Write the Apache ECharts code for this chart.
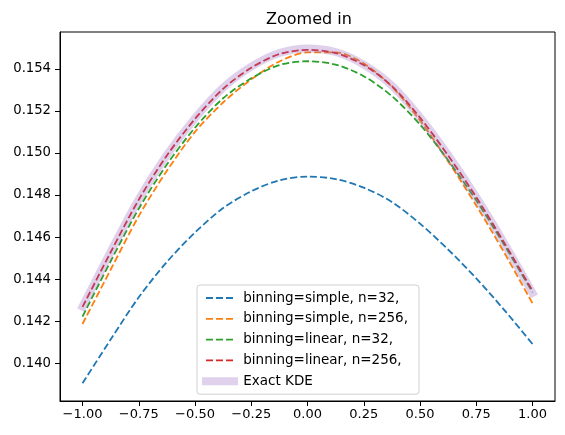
<!DOCTYPE html>
<html>
<head>
<meta charset="utf-8">
<script src="https://cdn.jsdelivr.net/npm/echarts@6/dist/echarts.min.js"></script>
<style>
html,body{margin:0;padding:0;background:#fff;}
#c{width:565px;height:435px;}
</style>
</head>
<body>
<div id="c"></div>
<script>
// x positions of the sampled curves
var xs = [-1, -0.875, -0.75, -0.625, -0.5, -0.375, -0.25, -0.125, 0, 0.125, 0.25, 0.375, 0.5, 0.625, 0.75, 0.875, 1];

// series values
var simple32  = [0.13905, 0.14113, 0.14314, 0.14482, 0.14622, 0.14738, 0.14818, 0.14870, 0.14888, 0.14876, 0.14835, 0.14767, 0.14664, 0.14541, 0.14404, 0.14253, 0.14092];
var simple256 = [0.14187, 0.14445, 0.14700, 0.14915, 0.15100, 0.15240, 0.15350, 0.15435, 0.15478, 0.15478, 0.15425, 0.15315, 0.15155, 0.14960, 0.14750, 0.14525, 0.14285];
var linear32  = [0.14222, 0.14485, 0.14735, 0.14945, 0.15120, 0.15260, 0.15355, 0.15418, 0.15436, 0.15420, 0.15365, 0.15270, 0.15135, 0.14965, 0.14775, 0.14562, 0.14338];
var linear256 = [0.14268, 0.14528, 0.14778, 0.14988, 0.15162, 0.15305, 0.15405, 0.15470, 0.15490, 0.15475, 0.15418, 0.15318, 0.15168, 0.14988, 0.14790, 0.14572, 0.14345];
var exactKDE  = [0.14270, 0.14530, 0.14780, 0.14990, 0.15165, 0.15310, 0.15410, 0.15475, 0.15497, 0.15480, 0.15420, 0.15320, 0.15170, 0.14990, 0.14790, 0.14570, 0.14335];

var seriesNames = ['binning=simple, n=32,', 'binning=simple, n=256,', 'binning=linear, n=32,', 'binning=linear, n=256,', 'Exact KDE'];
var titleText = 'Zoomed in';

// tick labels
var xTicks = [-1, -0.75, -0.5, -0.25, 0, 0.25, 0.5, 0.75, 1];
var yTicks = [0.140, 0.142, 0.144, 0.146, 0.148, 0.150, 0.152, 0.154];

function pairs(ys){ return xs.map(function(x,i){ return [x, ys[i]]; }); }
function fmtX(v){ return v.toFixed(2).replace('-', '\u2212'); }
function fmtY(v){ return v.toFixed(3); }

var FONT = 'DejaVu Sans';
var dashed = [7, 3];
function dashSeries(name, ys, color){
  return {
    name: name, type: 'line', data: pairs(ys), smooth: 0.3,
    symbol: 'none', showSymbol: false,
    lineStyle: { color: color, width: 1.8, type: dashed },
    itemStyle: { color: color }
  };
}

var chart = echarts.init(document.getElementById('c'), null, {renderer: 'canvas'});
chart.setOption({
  animation: false,
  backgroundColor: '#fff',
  title: {
    text: titleText, left: 261, top: 7,
    textStyle: { fontFamily: FONT, fontSize: 16, fontWeight: 'normal', color: '#000' }
  },
  grid: { left: 60, right: 10, top: 32, bottom: 34, show: true, borderColor: '#000', borderWidth: 1, backgroundColor: 'transparent' },
  xAxis: {
    type: 'value', min: -1.1, max: 1.1,
    axisLine: { show: true, onZero: false, lineStyle: { color: '#000', width: 1 } },
    axisTick: { show: true, length: 5, lineStyle: { color: '#000' }, customValues: xTicks },
    axisLabel: { show: true, margin: 7, color: '#000', fontFamily: FONT, fontSize: 13, customValues: xTicks, formatter: fmtX },
    splitLine: { show: false }
  },
  yAxis: {
    type: 'value', min: 0.13821, max: 0.15575,
    axisLine: { show: true, onZero: false, lineStyle: { color: '#000', width: 1 } },
    axisTick: { show: true, length: 5, lineStyle: { color: '#000' }, customValues: yTicks },
    axisLabel: { show: true, margin: 9, color: '#000', fontFamily: FONT, fontSize: 13.2, customValues: yTicks, formatter: fmtY },
    splitLine: { show: false }
  },
  legend: {
    orient: 'vertical', left: 197, top: 285,
    itemWidth: 28, itemHeight: 14, itemGap: 6.8,
    padding: [6, 11, 6, 5],
    borderColor: '#d0d0d0', borderWidth: 1, borderRadius: 3,
    backgroundColor: 'rgba(255,255,255,0.8)',
    itemStyle: { opacity: 0, color: 'transparent', borderWidth: 0 },
    lineStyle: { width: 'inherit' },
    formatter: function(n){ return ' ' + n; },
    textStyle: { fontFamily: FONT, fontSize: 13.5, color: '#000' },
    data: seriesNames
  },
  series: [
    dashSeries(seriesNames[0], simple32, '#1f77b4'),
    dashSeries(seriesNames[1], simple256, '#ff7f0e'),
    dashSeries(seriesNames[2], linear32, '#2ca02c'),
    dashSeries(seriesNames[3], linear256, '#d62728'),
    {
      name: seriesNames[4], type: 'line', data: pairs(exactKDE), smooth: 0.3,
      symbol: 'none', showSymbol: false,
      lineStyle: { color: '#9467bd', width: 8, opacity: 0.3, cap: 'square' },
      itemStyle: { color: '#9467bd', opacity: 0.3 }
    }
  ]
});
</script>
</body>
</html>
